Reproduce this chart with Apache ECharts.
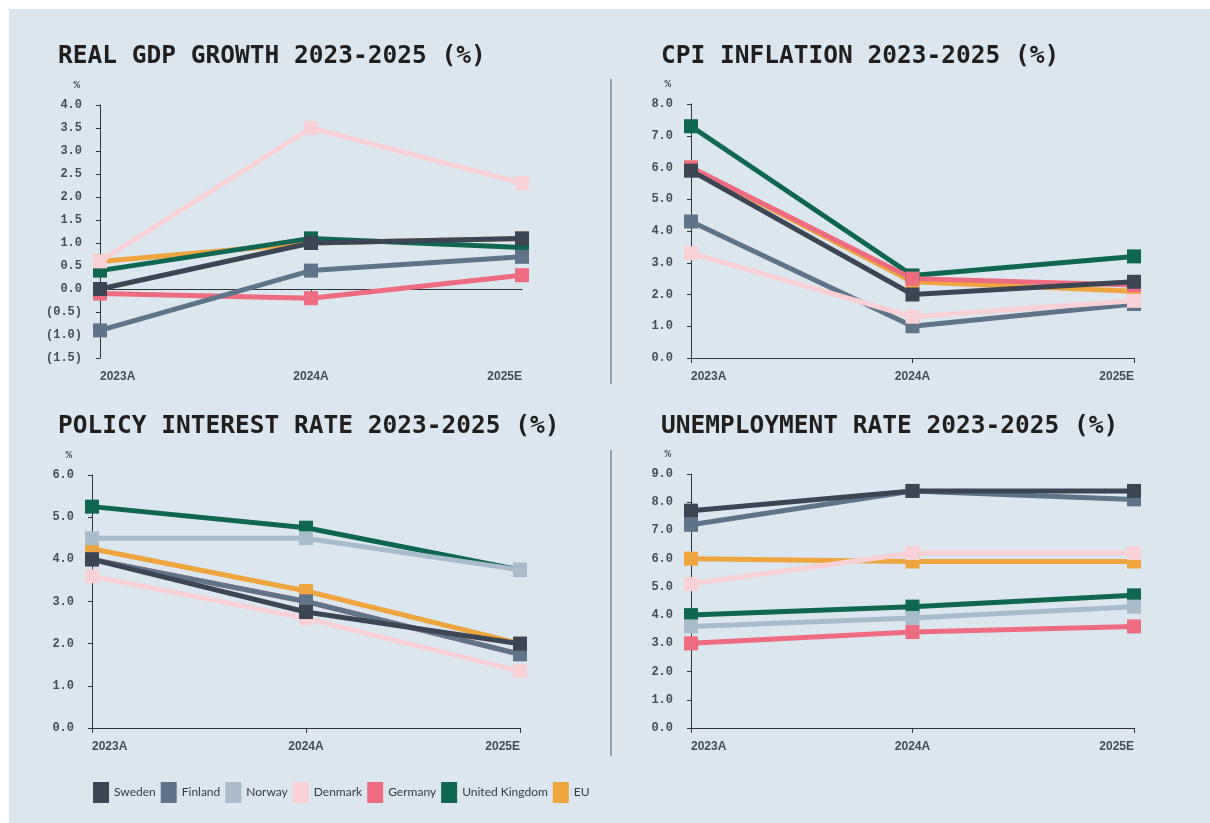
<!DOCTYPE html>
<html>
<head>
<meta charset="utf-8">
<title>Nordic macro dashboard 2023-2025</title>
<script src="https://cdn.jsdelivr.net/npm/echarts@6/dist/echarts.min.js"></script>
<style>
  html, body { margin: 0; padding: 0; background: #ffffff; }
  #chart { width: 1210px; height: 823px; }
</style>
</head>
<body>
<div id="chart"></div>
<script>
// ---- data -------------------------------------------------------------
const years = ['2023A', '2024A', '2025E'];
const countries = ['Sweden', 'Finland', 'Norway', 'Denmark', 'Germany', 'United Kingdom', 'EU'];

// rows follow the order of `countries`
const gdpGrowth = [
  [0.0, 1.0, 1.1],
  [-0.9, 0.4, 0.7],
  [null, null, null],
  [0.6, 3.5, 2.3],
  [-0.1, -0.2, 0.3],
  [0.4, 1.1, 0.9],
  [0.6, 1.0, 1.1]
];
const cpiInflation = [
  [5.9, 2.0, 2.4],
  [4.3, 1.0, 1.7],
  [null, null, null],
  [3.3, 1.3, 1.8],
  [6.0, 2.5, 2.3],
  [7.3, 2.6, 3.2],
  [6.0, 2.4, 2.1]
];
const policyRate = [
  [4.0, 2.75, 2.0],
  [4.0, 3.0, 1.75],
  [4.5, 4.5, 3.75],
  [3.6, 2.6, 1.35],
  [4.0, 3.0, 1.75],
  [5.25, 4.75, 3.75],
  [4.25, 3.25, 2.0]
];
const unemployment = [
  [7.7, 8.4, 8.4],
  [7.2, 8.4, 8.1],
  [3.6, 3.9, 4.3],
  [5.1, 6.2, 6.2],
  [3.0, 3.4, 3.6],
  [4.0, 4.3, 4.7],
  [6.0, 5.9, 5.9]
];

// ---- styling ----------------------------------------------------------
const palette = {
  'Sweden': '#3b4554',
  'Finland': '#5f7489',
  'Norway': '#a9bccb',
  'Denmark': '#f8d0d5',
  'Germany': '#ee6c80',
  'United Kingdom': '#0f6651',
  'EU': '#eea53f'
};
// later series are painted on top
const drawOrder = ['EU', 'United Kingdom', 'Germany', 'Norway', 'Finland', 'Denmark', 'Sweden'];

const inkDark = '#2f343b';
const labelInk = '#434c58';
const monoFont = "'DejaVu Sans Mono', monospace";
const tickFont = "'Liberation Mono', monospace";
const catFont = "'Liberation Sans', Arial, sans-serif";

const panels = [
  { title: 'REAL GDP GROWTH 2023-2025 (%)', values: gdpGrowth, min: -1.5, max: 4, interval: 0.5,
    grid: { left: 100, top: 105, width: 422, height: 253 }, titlePos: [53, 39], zeroLine: true },
  { title: 'CPI INFLATION 2023-2025 (%)', values: cpiInflation, min: 0, max: 8, interval: 1,
    grid: { left: 691, top: 104, width: 443, height: 254 }, titlePos: [656, 39] },
  { title: 'POLICY INTEREST RATE 2023-2025 (%)', values: policyRate, min: 0, max: 6, interval: 1,
    grid: { left: 92, top: 475, width: 428, height: 253 }, titlePos: [53, 409] },
  { title: 'UNEMPLOYMENT RATE 2023-2025 (%)', values: unemployment, min: 0, max: 9, interval: 1,
    grid: { left: 691, top: 474, width: 443, height: 254 }, titlePos: [656, 409] }
];

function fmtValue(v) {
  return v < 0 ? '(' + Math.abs(v).toFixed(1) + ')' : v.toFixed(1);
}

const titles = [], grids = [], xAxes = [], yAxes = [], series = [];

panels.forEach((p, gi) => {
  titles.push({
    text: p.title, left: p.titlePos[0], top: p.titlePos[1],
    textStyle: { fontFamily: monoFont, fontWeight: 'bold', fontSize: 24.5, color: '#1f1f1f' }
  });
  grids.push(Object.assign({ containLabel: false }, p.grid));

  const labelAxisIndex = xAxes.length;
  xAxes.push({
    type: 'category', gridIndex: gi, data: years, boundaryGap: false, position: 'bottom',
    axisLine: { show: !p.zeroLine, onZero: false, lineStyle: { color: inkDark, width: 1 } },
    axisTick: { show: !p.zeroLine, length: 5, lineStyle: { color: inkDark } },
    axisLabel: {
      margin: 13, color: labelInk, fontFamily: catFont, fontWeight: 'bold', fontSize: 12,
      alignMinLabel: 'left', alignMaxLabel: 'right'
    },
    splitLine: { show: false }
  });
  if (p.zeroLine) {
    // baseline drawn through zero, with a tick at the middle year only
    xAxes.push({
      type: 'category', gridIndex: gi, data: years, boundaryGap: false, position: 'bottom',
      axisLine: { show: true, onZero: true, lineStyle: { color: inkDark, width: 1 } },
      axisTick: { show: true, length: 5, interval: (i) => i === 1, lineStyle: { color: inkDark } },
      axisLabel: { show: false },
      splitLine: { show: false }
    });
  }

  yAxes.push({
    type: 'value', gridIndex: gi, min: p.min, max: p.max, interval: p.interval,
    name: '%', nameLocation: 'end', nameGap: 14,
    nameTextStyle: { align: 'right', padding: [0, 20, 0, 0], color: labelInk, fontFamily: tickFont, fontSize: 11, fontWeight: 'bold' },
    axisLine: { show: true, onZero: false, lineStyle: { color: inkDark, width: 1 } },
    axisTick: { show: true, length: 4, lineStyle: { color: inkDark } },
    axisLabel: { margin: 18, color: labelInk, fontFamily: tickFont, fontSize: 12, fontWeight: 'bold', formatter: fmtValue },
    splitLine: { show: false }
  });

  drawOrder.forEach(name => {
    const row = p.values[countries.indexOf(name)];
    series.push({
      name: name, type: 'line', xAxisIndex: labelAxisIndex, yAxisIndex: gi,
      data: row, symbol: 'rect', symbolSize: 14, showSymbol: true,
      lineStyle: { color: palette[name], width: 5 },
      itemStyle: { color: palette[name] },
      emphasis: { disabled: true }
    });
  });
});

const chart = echarts.init(document.getElementById('chart'), null, { renderer: 'canvas' });
chart.setOption({
  animation: false,
  backgroundColor: '#ffffff',
  title: titles,
  grid: grids,
  xAxis: xAxes,
  yAxis: yAxes,
  series: series,
  legend: {
    data: countries.map(c => ({ name: c, icon: 'rect', itemStyle: { color: palette[c] } })),
    left: 88, top: 777, itemWidth: 16, itemHeight: 21, itemGap: 5,
    textStyle: { fontFamily: "Lato, 'Liberation Sans', sans-serif", fontSize: 12, color: '#333a44' },
    selectedMode: false
  },
  graphic: [
    { type: 'rect', z: -10, silent: true, shape: { x: 9, y: 9, width: 1201, height: 814 }, style: { fill: '#dbe6ee' } },
    { type: 'line', silent: true, shape: { x1: 611, y1: 79, x2: 611, y2: 384 }, style: { stroke: '#8ea2b4', lineWidth: 2 } },
    { type: 'line', silent: true, shape: { x1: 611, y1: 450, x2: 611, y2: 756 }, style: { stroke: '#8ea2b4', lineWidth: 2 } }
  ]
});
</script>
</body>
</html>
